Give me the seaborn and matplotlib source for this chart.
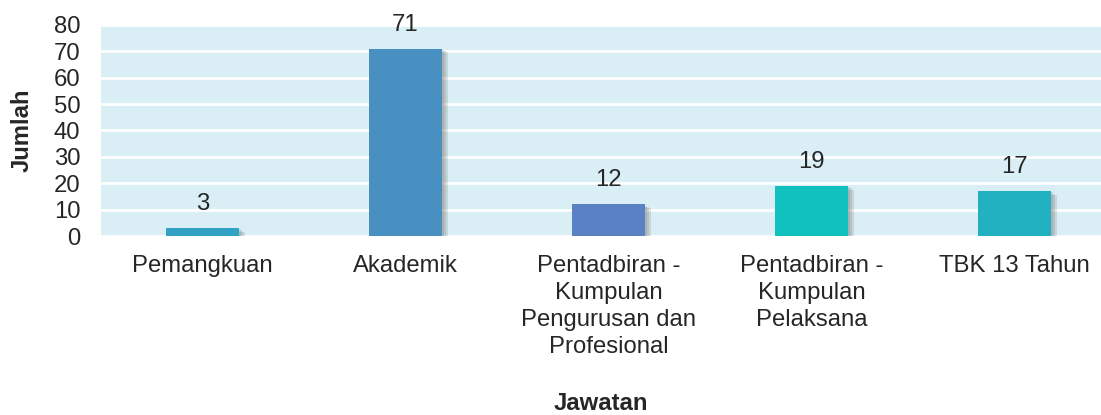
import pandas as pd
import matplotlib
matplotlib.use("Agg")
import matplotlib.pyplot as plt
import matplotlib.patheffects as pe
import seaborn as sns

categories = ["Pemangkuan", "Akademik",
              "Pentadbiran -\nKumpulan\nPengurusan dan\nProfesional",
              "Pentadbiran -\nKumpulan\nPelaksana", "TBK 13 Tahun"]
counts = [3, 71, 12, 19, 17]
colors = ["#31a2c3", "#4990c2", "#5a81c4", "#10c1bd", "#22b1c1"]
yticks = [0, 10, 20, 30, 40, 50, 60, 70, 80]

df = pd.DataFrame({"Jawatan": categories, "Jumlah": counts})

sns.set_style("white")
plt.rcParams["font.family"] = ["Liberation Sans", "DejaVu Sans"]

fs = 17.2
txt = "#262626"

fig = plt.figure(figsize=(11.01, 4.15), dpi=100)
ax = fig.add_axes([101 / 1101, 1 - 236 / 415, 1000 / 1101, 211 / 415])
ax.set_facecolor("#daeef5")

sns.barplot(data=df, x="Jawatan", y="Jumlah", hue="Jawatan", palette=colors,
            width=0.36, legend=False, ax=ax, zorder=3, saturation=1, linewidth=0)

# soft drop shadow like the original (a few stacked faint shadows)
shadow = [pe.SimplePatchShadow(offset=(o, -o * 0.6), shadow_rgbFace="#6a6a6a", alpha=0.18)
          for o in (1.5, 3, 4.5)]
for p in ax.patches:
    p.set_path_effects(shadow + [pe.Normal()])

for i, v in enumerate(counts):
    ax.annotate(str(v), (i, v), xytext=(0, 9.5), textcoords="offset points",
                ha="center", va="bottom", fontsize=fs, color=txt)

ax.set_xlim(-0.5, -0.5 + 1000 / 203)
ax.set_ylim(0, 80)
ax.set_yticks(yticks)
ax.grid(axis="y", color="white", linewidth=2, zorder=1)
ax.set_axisbelow(True)
for s in ax.spines.values():
    s.set_visible(False)
ax.tick_params(axis="both", length=0, labelsize=fs, colors=txt)
ax.tick_params(axis="y", pad=15)
ax.tick_params(axis="x", pad=14)
for lbl in ax.get_xticklabels():
    lbl.set_linespacing(1.28)

ax.set_xlabel("")
ax.set_ylabel("")
fig.text(601 / 1101, 1 - 403 / 415, "Jawatan", fontsize=fs, fontweight="bold",
         color=txt, ha="center", va="center")
fig.text(22 / 1101, 1 - 130 / 415, "Jumlah", fontsize=fs, fontweight="bold",
         color=txt, ha="center", va="center", rotation=90)

fig.savefig("out.png", dpi=100)
